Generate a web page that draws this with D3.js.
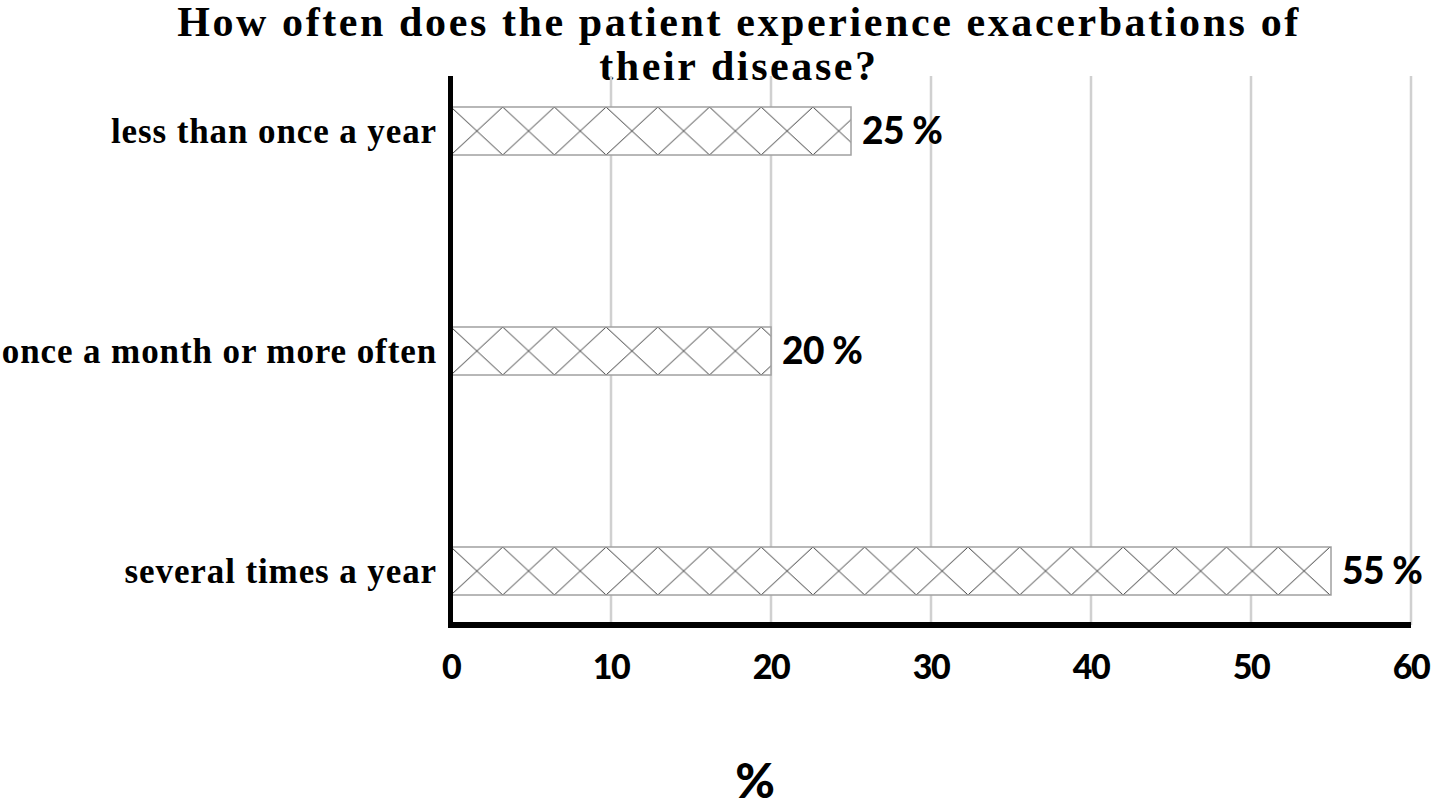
<!DOCTYPE html>
<html>
<head>
<meta charset="utf-8">
<script src="https://cdn.jsdelivr.net/npm/d3@7"></script>
<style>
  body { margin: 0; background: #fff; }
  svg { display: block; }
  .serif { font-family: "Liberation Serif", "Times New Roman", Times, serif; font-weight: bold; }
  .heavy { font-family: Lato, "DejaVu Sans", sans-serif; font-weight: 900; }
</style>
</head>
<body>
<div class="svg_container"></div>
<script>
// Chart data
var titleLines = ["How often does the patient experience exacerbations of", "their disease?"];
var categories = ["less than once a year", "once a month or more often", "several times a year"];
var values = [25, 20, 55];
var xTicks = [0, 10, 20, 30, 40, 50, 60];
var axisLabel = "%";

var W = 1451, H = 808;

var svg = d3.select("div.svg_container")
    .append("svg")
        .attr("width", W)
        .attr("height", H);

var x = d3.scaleLinear().domain([0, 60]).range([451, 1411]);
var y = d3.scaleBand()
    .domain(categories)
    .range([21, 681])
    .paddingInner(0.7818)
    .paddingOuter(0.3909);

var plotTop = 76, plotBottom = 625;

// Title
svg.append("text")
    .attr("class", "serif")
    .attr("x", 739)
    .attr("y", 36)
    .attr("text-anchor", "middle")
    .style("font-size", "42px")
    .style("letter-spacing", "2.6px")
    .selectAll("tspan")
    .data(titleLines)
    .enter()
    .append("tspan")
        .attr("x", 739)
        .attr("dy", function(d, i) { return i == 0 ? 0 : 44; })
        .text(function(d) { return d; });

// Grid lines
svg.selectAll("line.grid")
    .data(xTicks.filter(function(t) { return t > 0; }))
    .enter()
    .append("line")
        .attr("class", "grid")
        .attr("x1", function(d) { return x(d); })
        .attr("x2", function(d) { return x(d); })
        .attr("y1", plotTop)
        .attr("y2", plotBottom)
        .attr("stroke", "#d0d0d0")
        .attr("stroke-width", 2.5);

// Cross hatch patterns, one per bar so the diamonds line up with each bar
var defs = svg.append("defs");
var patW = 51.7;
categories.forEach(function(c, i) {
    var p = defs.append("pattern")
        .attr("id", "hatch" + i)
        .attr("patternUnits", "userSpaceOnUse")
        .attr("x", x(0))
        .attr("y", y(c))
        .attr("width", patW)
        .attr("height", y.bandwidth());
    p.append("rect")
        .attr("width", patW)
        .attr("height", y.bandwidth())
        .attr("fill", "#fff");
    p.append("line")
        .attr("x1", 0).attr("y1", 0)
        .attr("x2", patW).attr("y2", y.bandwidth())
        .attr("stroke", "#222").attr("stroke-width", 0.9);
    p.append("line")
        .attr("x1", 0).attr("y1", y.bandwidth())
        .attr("x2", patW).attr("y2", 0)
        .attr("stroke", "#222").attr("stroke-width", 0.9);
});

// Bars
svg.selectAll("rect.bar")
    .data(values)
    .enter()
    .append("rect")
        .attr("class", "bar")
        .attr("x", x(0))
        .attr("y", function(d, i) { return y(categories[i]); })
        .attr("width", function(d) { return x(d) - x(0); })
        .attr("height", y.bandwidth())
        .attr("fill", function(d, i) { return "url(#hatch" + i + ")"; })
        .attr("stroke", "#a0a0a0")
        .attr("stroke-width", 1.5);

// Value labels
svg.selectAll("text.value")
    .data(values)
    .enter()
    .append("text")
        .attr("class", "value heavy")
        .attr("x", function(d) { return x(d) + 11; })
        .attr("y", function(d, i) { return y(categories[i]) + y.bandwidth() / 2 + 13; })
        .style("font-size", "37px")
        .style("letter-spacing", "-0.5px")
        .text(function(d) { return d + " %"; });

// Category labels
svg.selectAll("text.cat")
    .data(categories)
    .enter()
    .append("text")
        .attr("class", "cat serif")
        .attr("x", 437)
        .attr("y", function(d) { return y(d) + y.bandwidth() / 2 + 12; })
        .attr("text-anchor", "end")
        .style("font-size", "35px")
        .style("letter-spacing", "0.9px")
        .text(function(d) { return d; });

// Axes lines
svg.append("line")
    .attr("x1", 450.5).attr("x2", 450.5)
    .attr("y1", plotTop).attr("y2", plotBottom + 3)
    .attr("stroke", "#000")
    .attr("stroke-width", 5);
svg.append("line")
    .attr("x1", 448).attr("x2", x(60))
    .attr("y1", plotBottom).attr("y2", plotBottom)
    .attr("stroke", "#000")
    .attr("stroke-width", 6);

// Tick labels
svg.selectAll("text.tick")
    .data(xTicks)
    .enter()
    .append("text")
        .attr("class", "tick heavy")
        .attr("x", function(d) { return x(d); })
        .attr("y", 679)
        .attr("text-anchor", "middle")
        .style("font-size", "34px")
        .style("letter-spacing", "-1.5px")
        .text(function(d) { return d; });

// Axis title
svg.append("text")
    .attr("class", "heavy")
    .attr("x", 755)
    .attr("y", 798)
    .attr("text-anchor", "middle")
    .style("font-size", "48px")
    .text(axisLabel);
</script>
</body>
</html>
